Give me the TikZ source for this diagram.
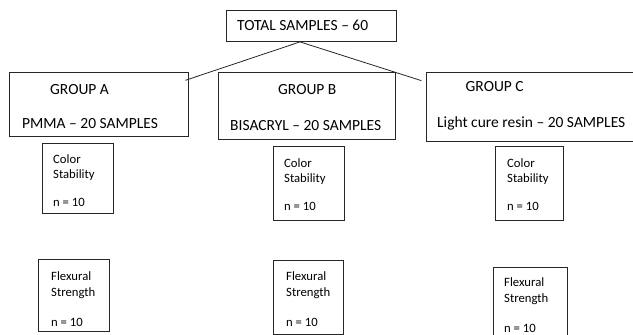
\documentclass[tikz,border=0pt]{standalone}
\usepackage{fontspec}
\setmainfont{Carlito}
\usetikzlibrary{
  positioning, % for placing texts relative to their boxes
}
\tikzset{
  box/.style={ % style for every frame
    rectangle,draw=black!85,line width=0.8pt, % thin dark outline
    inner sep=0pt, % the texts are placed by hand
  },
  bigtxt/.style={ % texts of the total and group boxes
    font=\fontsize{15.5}{18}\selectfont,
    inner sep=0pt,anchor=base west,
  },
  smalltxt/.style={ % texts of the test boxes (base = last line)
    font=\fontsize{12.7}{15.5}\selectfont,
    inner sep=0pt,anchor=base west,align=left,
  },
  conn/.style={ % style for the connections
    draw=black!85,line width=0.8pt,
  },
}
\begin{document}
\begin{tikzpicture}[x=1pt,y=-1pt]
	\useasboundingbox (0,0) rectangle (633,335);
	
	% top box
	\node[box,minimum width=170pt,minimum height=31pt] (total) at (311,26) {};
	\node[bigtxt] (totaltxt) at (237,30.9) {TOTAL SAMPLES -- 60};
	
	% groups
	\node[box,minimum width=178.7pt,minimum height=64pt] (grpA) at (98.65,104.7) {};
	\node[bigtxt] (grpAname) at (50,94.9) {GROUP A};
	\node[bigtxt] (grpAmat) at (22,128.9) {PMMA -- 20 SAMPLES};
	
	\node[box,minimum width=177pt,minimum height=67pt] (grpB) at (307,105.5) {};
	\node[bigtxt] (grpBname) at (278,94.9) {GROUP B};
	\node[bigtxt] (grpBmat) at (230,130.6) {BISACRYL -- 20 SAMPLES};
	
	\node[box,minimum width=224pt,minimum height=68.5pt] (grpC) at (538,106.75) {};
	\node[bigtxt] (grpCname) at (465.5,91.9) {GROUP C};
	\node[bigtxt] (grpCmat) at (437,127.9) {Light cure resin -- 20 SAMPLES};
	
	% colour stability
	\node[box,minimum width=71pt,minimum height=70pt] (colA) at (77.5,178) {};
	\node[smalltxt] (colAtxt) at (53,206.6) {Color\\Stability\\[12.5pt]n = 10};
	\node[box,minimum width=71pt,minimum height=74pt] (colB) at (308.5,183) {};
	\node[smalltxt] (colBtxt) at (284,210.8) {Color\\Stability\\[12.5pt]n = 10};
	\node[box,minimum width=68pt,minimum height=74pt] (colC) at (529,183) {};
	\node[smalltxt] (colCtxt) at (507,210.8) {Color\\Stability\\[12.5pt]n = 10};
	
	% flexural strength
	\node[box,minimum width=71pt,minimum height=72pt] (flexA) at (73.5,295) {};
	\node[smalltxt] (flexAtxt) at (51,326.1) {Flexural\\Strength\\[14.5pt]n = 10};
	\node[box,minimum width=70pt,minimum height=74pt] (flexB) at (308,297) {};
	\node[smalltxt] (flexBtxt) at (286,326.1) {Flexural\\Strength\\[14.5pt]n = 10};
	\node[box,minimum width=74pt,minimum height=75pt] (flexC) at (530,304.5) {};
	\node[smalltxt] (flexCtxt) at (504,332.1) {Flexural\\Strength\\[14.5pt]n = 10};
	
	\draw[conn] ([xshift=-11pt]total.south) -- ([xshift=-3pt,yshift=-8pt]grpA.north east);
	\draw[conn] ([xshift=-11pt]total.south) -- ([xshift=-4.3pt,yshift=-8.5pt]grpC.north west);
\end{tikzpicture}
\end{document}
